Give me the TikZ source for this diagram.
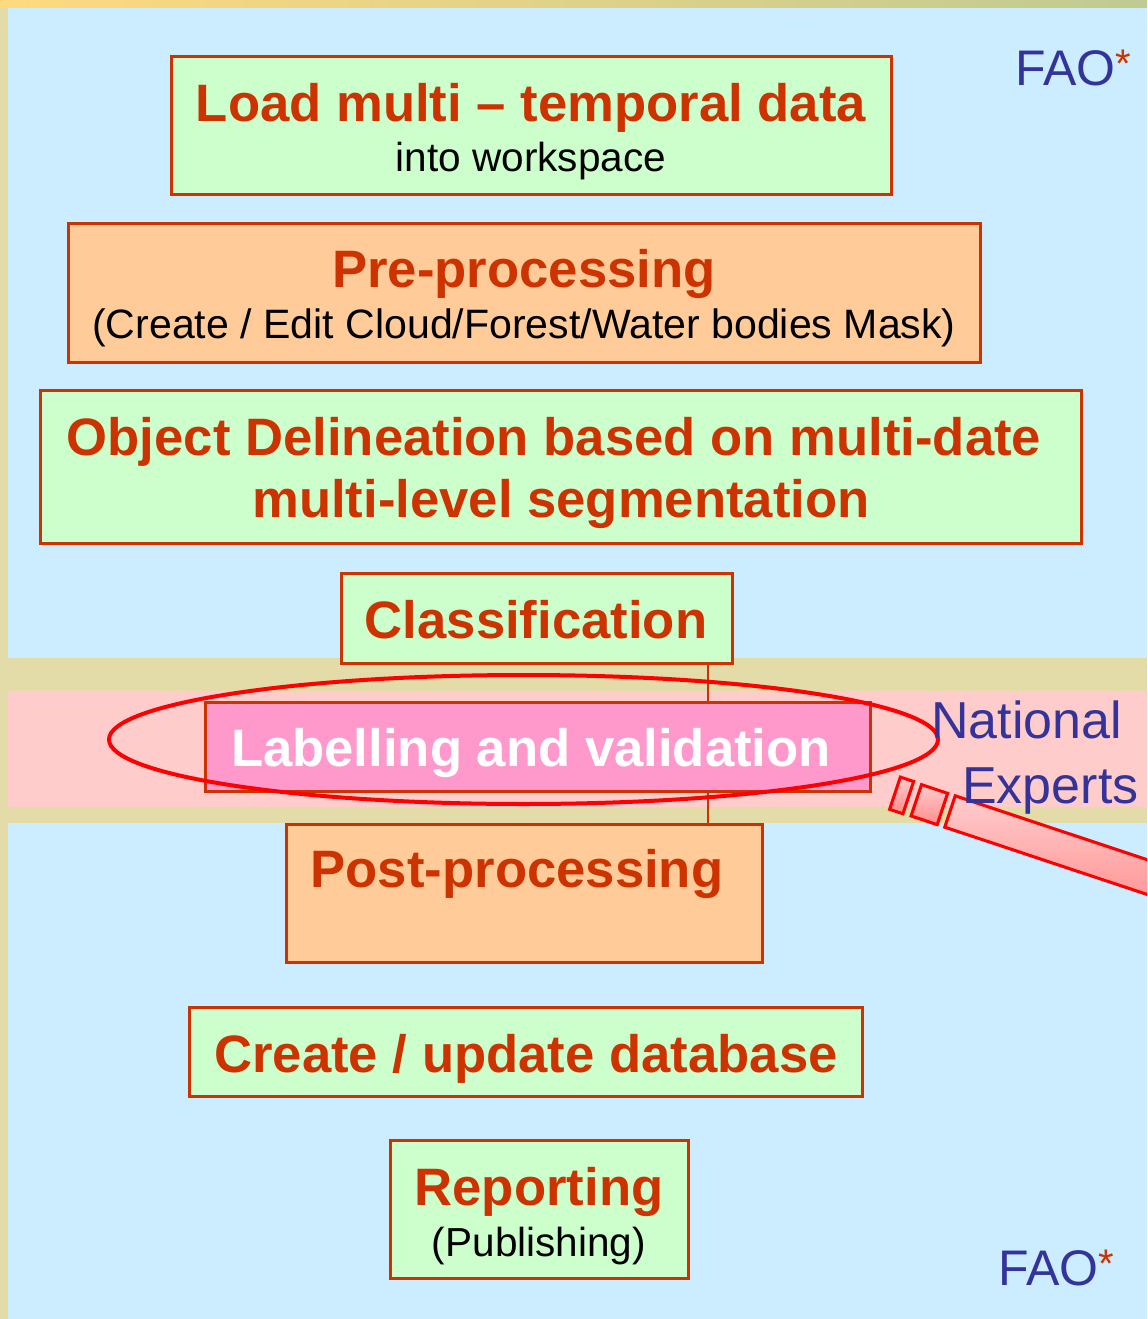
\documentclass[tikz,border=0pt]{standalone}
\usepackage{fontspec}
\setmainfont{Liberation Sans}
\usetikzlibrary{shapes.geometric}
\definecolor{bgblue}{HTML}{CCECFF}
\definecolor{beige}{HTML}{E3DBA8}
\definecolor{bandpink}{HTML}{FFCCCC}
\definecolor{boxgreen}{HTML}{CCFFCC}
\definecolor{boxorange}{HTML}{FFCC99}
\definecolor{boxpink}{HTML}{FF99CC}
\definecolor{edgered}{HTML}{CC3300}
\definecolor{navy}{HTML}{333399}
\definecolor{topyellow}{HTML}{FFD97E}
\definecolor{topgreen}{HTML}{BFCB92}
\definecolor{handlelow}{HTML}{FF8C8C}
\tikzset{
  stagebox/.style={draw=edgered, line width=2.25pt, inner sep=0pt, outer sep=0pt},
  greenbox/.style={stagebox, fill=boxgreen},
  orangebox/.style={stagebox, fill=boxorange},
  pinkbox/.style={stagebox, fill=boxpink},
  title/.style={anchor=base, inner sep=0pt, text=edgered, font=\fontsize{39.5}{40}\selectfont\bfseries},
  subtitle/.style={anchor=base, inner sep=0pt, text=black, font=\fontsize{30.4}{31}\selectfont},
  bluetext/.style={anchor=base west, inner sep=0pt, text=navy, font=\fontsize{39}{40}\selectfont},
  faotext/.style={anchor=base west, inner sep=0pt, text=navy, font=\fontsize{37.5}{38}\selectfont},
  conn/.style={draw=edgered, line width=1.6pt},
  lens/.style={draw=red, line width=3pt, ellipse, inner sep=0pt},
  handle/.style={draw=red, line width=2.3pt, top color=bandpink, bottom color=handlelow},
}
\newcommand{\faostar}{\textcolor{edgered}{\raisebox{6pt}{\fontsize{30}{30}\selectfont *}}}
\begin{document}
\begin{tikzpicture}[x=0.75pt,y=-0.75pt]
\useasboundingbox (0,0) rectangle (1147,1319);
% background
\fill[bgblue] (0,0) rectangle (1147,1319);
\shade[left color=topyellow, right color=topgreen] (0,0) rectangle (1147,8);
\fill[beige] (0,8) rectangle (8,1319);
\fill[beige] (8,658) rectangle (1147,691);
\fill[bandpink] (8,691) rectangle (1147,807);
\fill[beige] (8,807) rectangle (1147,823);

% boxes
\node[greenbox, minimum width=540pt, minimum height=103.5pt] (b1) at (531,126) {};
\node[orangebox, minimum width=684pt, minimum height=103.5pt] (b2) at (524,293) {};
\node[greenbox, minimum width=780.75pt, minimum height=114.75pt] (b3) at (560.5,466.5) {};
\node[greenbox, minimum width=293.25pt, minimum height=67.5pt] (b4) at (536.5,618) {};
\node[pinkbox, minimum width=498.75pt, minimum height=66.75pt] (b5) at (537.5,746.5) {};
\node[orangebox, minimum width=357pt, minimum height=103.5pt] (b6) at (524,893) {};
\node[greenbox, minimum width=504.75pt, minimum height=66.75pt] (b7) at (525.5,1051.5) {};
\node[greenbox, minimum width=223.5pt, minimum height=103.5pt] (b8) at (539,1209) {};

% connectors
\coordinate (cx) at (708,0);
\draw[conn] (b4.south -| cx) -- (b5.north -| cx);
\draw[conn] (b5.south -| cx) -- (b6.north -| cx);

% magnifier lens
\node[lens, minimum width=621.75pt, minimum height=96.75pt] (ell) at (523.5,739.5) {};

% magnifier handle
\begin{scope}
\clip (0,0) rectangle (1147,1319);
\begin{scope}[shift={(950,811.5)}, rotate=-18.4]
\path[handle] (-58,-17) rectangle (-44,17);
\path[handle] (-35.5,-16.5) rectangle (-8,16.5);
\path[handle] (0,-16.5) rectangle (300,16.5);
\end{scope}
\end{scope}

% texts
\node[title] (t1a) at (531,122) {Load multi – temporal data};
\node[subtitle] (t1b) at (531,172) {into workspace};
\node[title] (t2a) at (524,288) {Pre-processing};
\node[subtitle, font=\fontsize{30.8}{31}\selectfont] (t2b) at (524,339) {(Create / Edit Cloud/Forest/Water bodies Mask)};
\node[title] (t3a) at (554,455) {Object Delineation based on multi-date};
\node[title] (t3b) at (561,517) {multi-level segmentation};
\node[title] (t4) at (536,638) {Classification};
\node[title, text=white] (t5) at (531,766) {Labelling and validation};
\node[title] (t6) at (517,887) {Post-processing};
\node[title] (t7) at (526,1072) {Create / update database};
\node[title] (t8a) at (539,1205) {Reporting};
\node[subtitle] (t8b) at (539,1256) {(Publishing)};

\node[bluetext] (nat) at (931,738) {National};
\node[bluetext] (exp) at (962,803) {Experts};
\node[faotext] (fao1) at (1015,86) {FAO\faostar};
\node[faotext] (fao2) at (998,1285) {FAO\faostar};
\end{tikzpicture}
\end{document}
